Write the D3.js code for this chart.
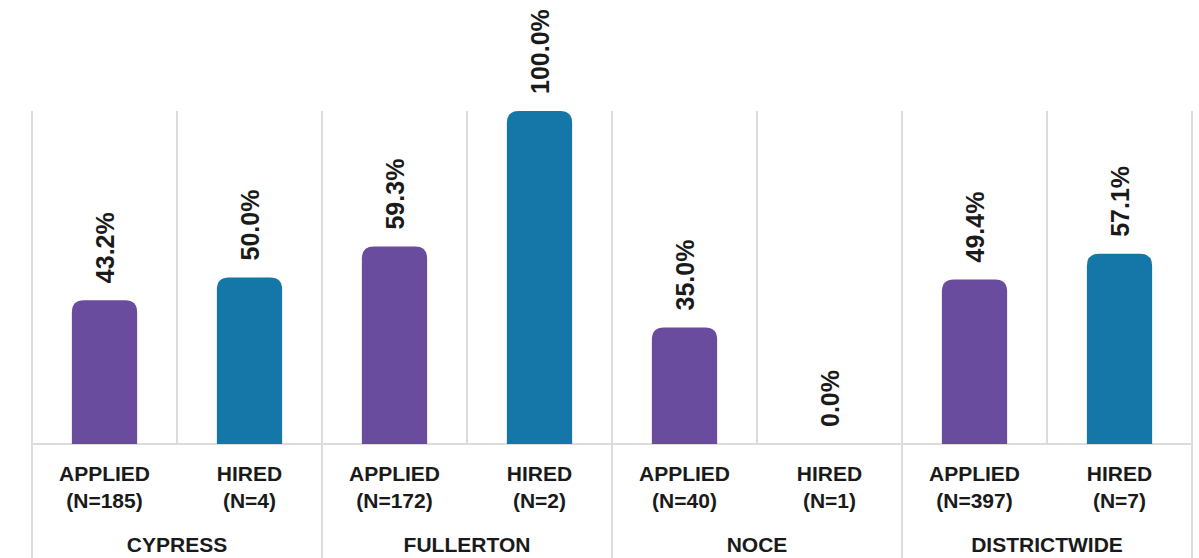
<!DOCTYPE html>
<html>
<head>
<meta charset="utf-8">
<script src="https://cdn.jsdelivr.net/npm/d3@7"></script>
<style>
  html, body { margin: 0; padding: 0; background: #ffffff; }
  svg { display: block; }
  text { font-family: "Liberation Sans", Arial, sans-serif; fill: #1a1a1a; }
</style>
</head>
<body>
<svg id="chart" width="1199" height="558"></svg>
<script>
const groups = ["CYPRESS", "FULLERTON", "NOCE", "DISTRICTWIDE"];
const statuses = ["APPLIED", "HIRED"];
const nLabels = ["(N=185)", "(N=4)", "(N=172)", "(N=2)", "(N=40)", "(N=1)", "(N=397)", "(N=7)"];
const values = [43.2, 50.0, 59.3, 100.0, 35.0, 0.0, 49.4, 57.1];
const colors = ["#6a4c9e", "#1477a7"];

const rows = [];
groups.forEach((g, gi) => statuses.forEach((s, si) => {
  const i = gi * statuses.length + si;
  rows.push({ id: g + "|" + s, group: g, status: s, si, n: nLabels[i], value: values[i] });
}));

const svg = d3.select("#chart");
const x = d3.scaleBand().domain(rows.map(d => d.id)).range([32, 1192]).padding(0);
const xg = d3.scaleBand().domain(groups).range([32, 1192]).padding(0);
const y = d3.scaleLinear().domain([0, 100]).range([444, 111]);
const barW = x.bandwidth() * 0.45;
const gridColor = "#dcdcdc";

// within-group separators (top to baseline)
svg.append("g").selectAll("line").data(rows.filter(d => d.si > 0)).join("line")
  .attr("x1", d => x(d.id)).attr("x2", d => x(d.id))
  .attr("y1", y(100)).attr("y2", y(0))
  .attr("stroke", gridColor).attr("stroke-width", 2);

// group separators (top to bottom)
const gEdges = groups.map(g => xg(g)).concat([xg.range()[1]]);
svg.append("g").selectAll("line").data(gEdges).join("line")
  .attr("x1", d => d).attr("x2", d => d)
  .attr("y1", y(100)).attr("y2", 558)
  .attr("stroke", gridColor).attr("stroke-width", 2);

// baseline
svg.append("line")
  .attr("x1", xg.range()[0]).attr("x2", xg.range()[1])
  .attr("y1", y(0)).attr("y2", y(0))
  .attr("stroke", gridColor).attr("stroke-width", 2);

function topRounded(x0, y0, w, h, r) {
  r = Math.min(r, h, w / 2);
  return `M${x0},${y0 + h}V${y0 + r}Q${x0},${y0} ${x0 + r},${y0}H${x0 + w - r}Q${x0 + w},${y0} ${x0 + w},${y0 + r}V${y0 + h}Z`;
}

svg.append("g").selectAll("path").data(rows.filter(d => d.value > 0)).join("path")
  .attr("d", d => {
    const cx = x(d.id) + x.bandwidth() / 2;
    return topRounded(cx - barW / 2, y(d.value), barW, y(0) - y(d.value), 12);
  })
  .attr("fill", d => colors[d.si]);

// value labels
svg.append("g").selectAll("text").data(rows).join("text")
  .attr("transform", d => `translate(${x(d.id) + x.bandwidth() / 2},${y(d.value) - 17}) rotate(-90)`)
  .attr("dy", "0.36em")
  .attr("text-anchor", "start")
  .style("font-size", "25px")
  .style("font-weight", "bold")
  .text(d => d.value.toFixed(1) + "%");

// category labels
const cat = svg.append("g").selectAll("text").data(rows).join("text")
  .attr("text-anchor", "middle")
  .style("font-size", "21px")
  .style("font-weight", "bold");
cat.append("tspan").attr("x", d => x(d.id) + x.bandwidth() / 2).attr("y", 481).text(d => d.status);
cat.append("tspan").attr("x", d => x(d.id) + x.bandwidth() / 2).attr("y", 508).text(d => d.n);

// group labels
svg.append("g").selectAll("text").data(groups).join("text")
  .attr("x", d => xg(d) + xg.bandwidth() / 2)
  .attr("y", 552)
  .attr("text-anchor", "middle")
  .style("font-size", "21px")
  .style("font-weight", "bold")
  .text(d => d);
</script>
</body>
</html>
